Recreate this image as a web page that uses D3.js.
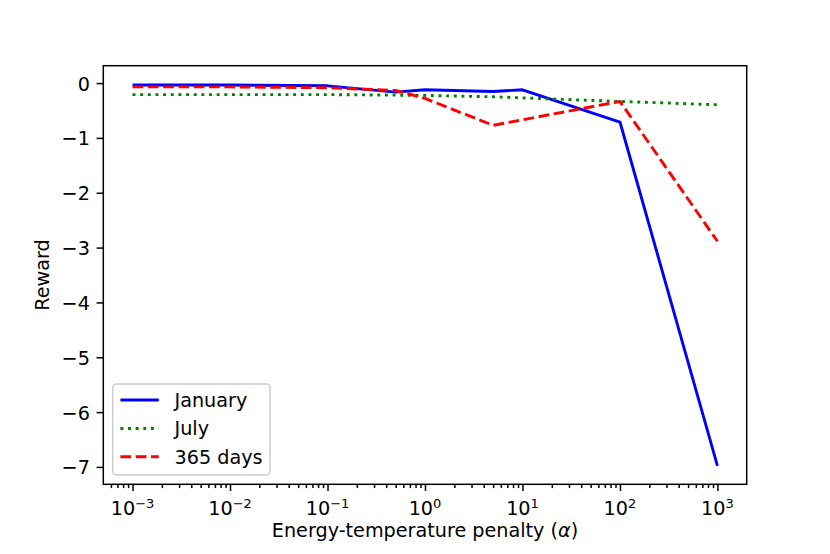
<!DOCTYPE html>
<html>
<head>
<meta charset="utf-8">
<script src="https://cdn.jsdelivr.net/npm/d3@7"></script>
<style>
  body { margin: 0; background: #fff; }
  svg { font-family: "DejaVu Sans", sans-serif; }
</style>
</head>
<body>
<svg id="vis" width="830" height="554"></svg>
<script>
var vis = d3.select("#vis");

// penalty values (x) and rewards
var alphas = [0.001, 0.01, 0.1, 0.5, 1, 5, 10, 100, 1000];
var january = [-0.035, -0.035, -0.05, -0.165, -0.122, -0.153, -0.122, -0.71, -6.98];
var july = [-0.21, -0.21, -0.21, -0.22, -0.225, -0.25, -0.27, -0.335, -0.395];
var year = [-0.07, -0.07, -0.085, -0.135, -0.28, -0.77, -0.67, -0.335, -2.885];

var seriesNames = ["January", "July", "365 days"];
var xTickExps = [-3, -2, -1, 0, 1, 2, 3];
var yTicks = [0, -1, -2, -3, -4, -5, -6, -7];

// axes box in pixels (note: "top" is taken by window.top)
var axL = 103.3, axR = 746.7, axT = 65.7, axB = 484.3;
var fs = 19.2;

var x = d3.scaleLog().domain([Math.pow(10, -3.3), Math.pow(10, 3.3)]).range([axL, axR]);
var y = d3.scaleLinear().domain([-7.317, 0.317]).range([axB, axT]);

var series = [
    { name: seriesNames[0], values: january, color: "#0000ff", dash: null },
    { name: seriesNames[1], values: july, color: "#008000", dash: "2.9,4.75" },
    { name: seriesNames[2], values: year, color: "#ff0000", dash: "10.7,4.6" }
];

// clip to axes
vis.append("defs").append("clipPath").attr("id", "clip")
    .append("rect")
    .attr("x", axL).attr("y", axT)
    .attr("width", axR - axL).attr("height", axB - axT);

var line = d3.line()
    .x((d, i) => x(alphas[i]))
    .y(d => y(d));

vis.append("g").attr("clip-path", "url(#clip)")
    .selectAll("path")
    .data(series)
    .enter().append("path")
    .attr("d", d => line(d.values))
    .attr("fill", "none")
    .attr("stroke", d => d.color)
    .attr("stroke-width", 2.9)
    .attr("stroke-dasharray", d => d.dash)
    .attr("stroke-linecap", "butt")
    .attr("stroke-linejoin", "round");

// minor x ticks
var minor = [];
for (var e = -4; e <= 3; e++) {
    for (var m = 2; m <= 9; m++) {
        var v = m * Math.pow(10, e);
        if (v > x.domain()[0] && v < x.domain()[1]) minor.push(v);
    }
}

vis.append("g")
    .attr("transform", `translate(0 ${axB})`)
    .call(d3.axisBottom(x).tickValues(minor).tickFormat("").tickSize(3.8))
    .call(g => g.select(".domain").remove())
    .selectAll("line").attr("stroke-width", 1.5);

var xAxis = vis.append("g")
    .attr("transform", `translate(0 ${axB})`)
    .call(d3.axisBottom(x).tickValues(xTickExps.map(k => Math.pow(10, k))).tickFormat("").tickSize(6.7))
    .call(g => g.select(".domain").remove());
xAxis.selectAll("line").attr("stroke-width", 1.5);

// x tick labels with superscripts
var xLab = vis.append("g").selectAll("text")
    .data(xTickExps)
    .enter().append("text")
    .attr("x", d => x(Math.pow(10, d)))
    .attr("y", 514.5)
    .attr("text-anchor", "middle")
    .attr("font-size", fs)
    .attr("fill", "black");
xLab.append("tspan").text("10");
xLab.append("tspan")
    .attr("font-size", 13)
    .attr("dy", -7)
    .text(d => d < 0 ? "\u2212" + Math.abs(d) : String(d));

var yAxis = vis.append("g")
    .attr("transform", `translate(${axL} 0)`)
    .call(d3.axisLeft(y).tickValues(yTicks)
        .tickFormat(d => d < 0 ? "\u2212" + Math.abs(d) : String(d))
        .tickSize(6.7).tickPadding(6.7))
    .call(g => g.select(".domain").remove());
yAxis.selectAll("line").attr("stroke-width", 1.5);
yAxis.selectAll("text")
    .attr("font-size", fs)
    .attr("font-family", "DejaVu Sans")
    .attr("dy", "0.36em");

// spines
vis.append("rect")
    .attr("x", axL).attr("y", axT)
    .attr("width", axR - axL).attr("height", axB - axT)
    .attr("fill", "none")
    .attr("stroke", "black")
    .attr("stroke-width", 1.5);

// axis labels
var xl = vis.append("text")
    .attr("x", (axL + axR) / 2)
    .attr("y", 537)
    .attr("text-anchor", "middle")
    .attr("font-size", fs)
    .text("Energy-temperature penalty (");
xl.append("tspan").attr("font-style", "italic").text("\u03b1");
xl.append("tspan").text(")");

vis.append("text")
    .attr("transform", `translate(48.5 ${(axT + axB) / 2}) rotate(-90)`)
    .attr("text-anchor", "middle")
    .attr("font-size", fs)
    .text("Reward");

// legend
var legend = vis.append("g");
legend.append("rect")
    .attr("x", 112.7).attr("y", 384)
    .attr("width", 157.3).attr("height", 91)
    .attr("rx", 3.8)
    .attr("fill", "white")
    .attr("fill-opacity", 0.8)
    .attr("stroke", "#cccccc")
    .attr("stroke-width", 1.5);

var rowY = [400, 428.5, 456.7];
var item = legend.selectAll(".item")
    .data(series)
    .enter().append("g")
    .attr("class", "item")
    .attr("transform", (d, i) => `translate(0 ${rowY[i]})`);
item.append("line")
    .attr("x1", 120.4).attr("x2", 158.8)
    .attr("stroke", d => d.color)
    .attr("stroke-width", 2.9)
    .attr("stroke-dasharray", d => d.dash);
item.append("text")
    .attr("x", 174.5)
    .attr("dy", "0.36em")
    .attr("font-size", fs)
    .text(d => d.name);
</script>
</body>
</html>
